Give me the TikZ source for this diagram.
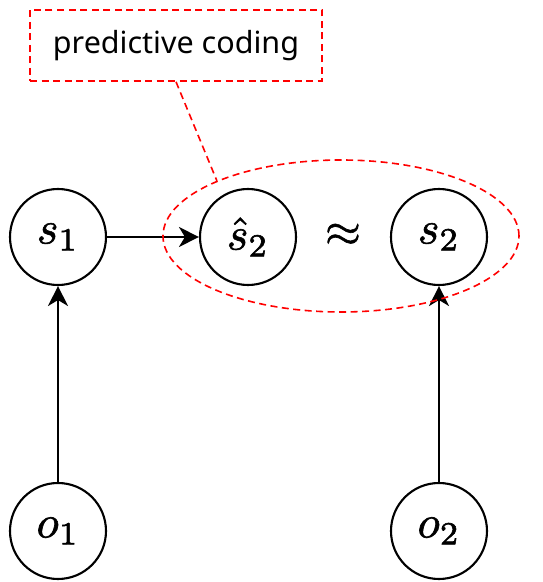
\documentclass[tikz,border=0pt]{standalone}
\usepackage{graphicx}
\usepackage{fontspec}
\newfontfamily\labelfont{Noto Sans}
\usetikzlibrary{arrows.meta,shapes.geometric}
% enlarged math for the variable names, glyphs filled and outlined for a heavier stroke
\newcommand{\bigmath}[1]{\scalebox{4.6}{\special{pdf:literal 2 Tr 0.13 w}$#1$\special{pdf:literal 0 Tr}}}
\begin{document}
\begin{tikzpicture}[x=1pt,y=1pt,
  var/.style={circle,draw,line width=2.1pt,minimum size=96pt,inner sep=0pt},
  link/.style={line width=2pt,-{Stealth[length=20pt,width=20pt,inset=6pt]}},
  note/.style={draw=red,line width=1.6pt,dash pattern=on 7pt off 4.5pt},
]
\useasboundingbox (0,0) rectangle (543,582);
% state and observation variables
\node[var] (s1) at (58,345) {\bigmath{s_1}};
\node[var] (sh2) at (248,345) {\bigmath{\hat{s}_2}};
\node[var] (s2) at (439,345) {\bigmath{s_2}};
\node (approx) at (343,347) {\bigmath{\approx}};
\node[var] (o1) at (58,51) {\bigmath{o_1}};
\node[var] (o2) at (439,51) {\bigmath{o_2}};
% dependencies
\draw[link] (s1) -- (sh2);
\draw[link] (o1) -- (s1);
\draw[link] (o2) -- (s2);
% predictive coding grouping and its label
\node[note,ellipse,minimum width=356pt,minimum height=152pt,inner sep=0pt] (grp) at (341,346) {};
\node[note,minimum width=292pt,minimum height=71pt,inner sep=0pt,
      font=\labelfont\fontsize{30.5}{34}\selectfont] (pc) at (176,536.5) {predictive coding};
\draw[note] (pc.south) -- (grp.156);
\end{tikzpicture}
\end{document}
